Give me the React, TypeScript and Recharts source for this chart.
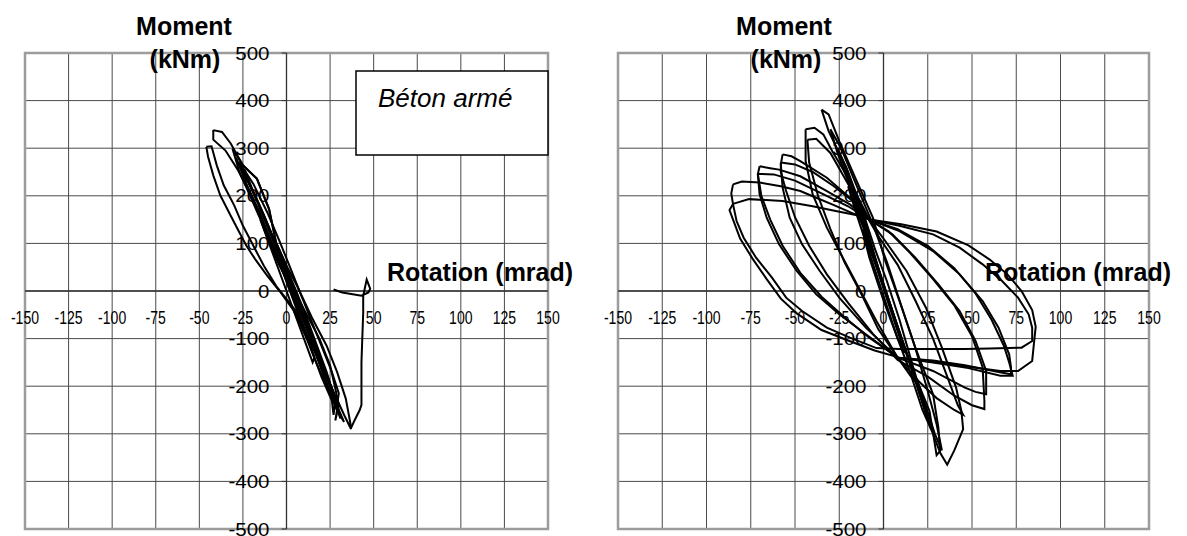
import React from 'react';
import {
  ComposedChart,
  Line,
  XAxis,
  YAxis,
  CartesianGrid,
  ReferenceLine,
  ReferenceDot,
  ReferenceArea,
} from 'recharts';

type Pt = [number, number];

const xTicks = [-150, -125, -100, -75, -50, -25, 0, 25, 50, 75, 100, 125, 150];
const yTicks = [-500, -400, -300, -200, -100, 0, 100, 200, 300, 400, 500];

// Left graph: reinforced concrete (rotation mrad, moment kNm)
const leftLoop1: Pt[] = [
  [-46, 303], [-45, 282], [-42, 243], [-38, 201], [-32, 158], [-27, 123], [-23, 95], [-18, 67],
  [-11, 32], [-4, 0], [4, -40], [11, -95], [17, -150], [23, -200], [29, -250], [33, -275],
  [30, -250], [25, -200], [19, -150], [12, -95], [5, -40], [-6, 11], [-13, 53], [-19, 95],
  [-25, 137], [-30, 180], [-36, 222], [-40, 264], [-43, 304], [-46, 303],
];
const leftLoop2: Pt[] = [
  [-42, 338], [-37, 334], [-32, 310], [-25, 264], [-17, 236], [-10, 172], [-6, 102], [0, 53],
  [6, 11], [10, -20], [15, -59], [23, -115], [29, -170], [34, -226], [37, -285], [37, -290],
  [33, -260], [28, -220], [22, -170], [16, -115], [10, -60], [4, -10], [-2, 40], [-8, 95],
  [-14, 150], [-21, 205], [-28, 255], [-35, 295], [-42, 318], [-42, 338],
];
const leftLoop3: Pt[] = [
  [-31, 299], [-27, 250], [-21, 201], [-15, 151], [-10, 102], [-4, 53], [2, 11], [6, -20],
  [11, -70], [16, -120], [21, -170], [25, -215], [29, -250], [28, -272], [30, -240], [28, -205],
  [25, -156], [19, -101], [11, -45], [4, 3], [0, 53], [-6, 102], [-10, 172], [-17, 236],
  [-25, 264], [-31, 299],
];
const leftLoop4: Pt[] = [
  [-25, 240], [-18, 180], [-11, 120], [-4, 60], [2, 0], [8, -60], [14, -120], [20, -180],
  [26, -230], [27, -260], [28, -230], [23, -170], [17, -110], [11, -50], [5, 5], [-2, 65],
  [-9, 125], [-16, 185], [-22, 230], [-25, 240],
];
const leftLoop5: Pt[] = [
  [-29, 280], [-23, 225], [-16, 170], [-10, 115], [-4, 60], [2, 5], [9, -55], [15, -115],
  [21, -175], [26, -220], [31, -268], [29, -235], [24, -185], [18, -130], [12, -75], [6, -20],
  [0, 35], [-6, 90], [-12, 145], [-18, 200], [-25, 250], [-29, 280],
];
const leftLoop6: Pt[] = [
  [-15, 150], [-8, 80], [0, 0], [8, -80], [15, -150], [16, -140], [9, -65], [1, 10], [-7, 90],
  [-15, 150],
];
const leftLoop7: Pt[] = [
  [-27, 270], [-20, 215], [-13, 160], [-7, 105], [-1, 50], [5, -5], [12, -65], [18, -125],
  [24, -185], [29, -240], [30, -215], [26, -170], [20, -115], [14, -60], [8, -5], [2, 50],
  [-4, 105], [-11, 165], [-19, 225], [-27, 270],
];
const leftLoop8: Pt[] = [
  [-24, 255], [-19, 205], [-12, 150], [-6, 95], [0, 40], [6, -15], [13, -80], [19, -140],
  [25, -200], [30, -255], [28, -225], [22, -165], [16, -105], [9, -40], [3, 15], [-3, 70],
  [-10, 130], [-17, 190], [-24, 255],
];
// last excursion, failure
const leftTail: Pt[] = [
  [37, -288], [39, -272], [42, -250], [43, -239], [43, -149], [44, -45], [44, -10], [46, 24],
  [48, 5], [47, -3], [43, -10], [38, -7], [32, -3], [27, 3],
];

// Right graph: pinched loops
const rightA1: Pt[] = [
  [-85, 224], [-80, 230], [-70, 228], [-58, 220], [-47, 210], [-38, 196], [-29, 182], [-16, 161],
  [-8, 150], [9, 137], [28, 119], [43, 91], [56, 56], [67, 21], [76, -14], [82, -49], [84, -77],
  [84, -105], [78, -119], [60, -121], [46, -122], [28, -122], [9, -122], [-4, -120], [-19, -98],
  [-32, -77], [-46, -42], [-55, -14], [-63, 28], [-72, 70], [-79, 112], [-83, 147], [-85, 182],
  [-86, 205], [-85, 224],
];
const rightA2: Pt[] = [
  [-85, 183], [-76, 193], [-57, 189], [-40, 178], [-27, 168], [-12, 157], [-8, 150], [10, 140],
  [30, 125], [48, 96], [60, 66], [70, 35], [78, 0], [84, -40], [86, -75], [85, -110], [84, -147],
  [76, -168], [66, -168], [50, -160], [30, -150], [10, -141], [-5, -125], [-20, -104], [-35, -82],
  [-49, -47], [-58, -16], [-66, 25], [-74, 68], [-81, 110], [-85, 150], [-87, 170], [-85, 183],
];
const rightB1: Pt[] = [
  [-70, 262], [-64, 258], [-59, 255], [-47, 241], [-32, 210], [-19, 182], [-8, 150], [9, 126],
  [28, 84], [43, 35], [56, -21], [65, -77], [71, -133], [72, -160], [72, -175], [65, -170],
  [46, -156], [28, -146], [8, -140], [-10, -91], [-25, -49], [-38, -7], [-49, 42], [-59, 98],
  [-66, 154], [-70, 203], [-71, 245], [-70, 262],
];
const rightB2: Pt[] = [
  [-71, 246], [-62, 245], [-50, 232], [-35, 205], [-20, 178], [-8, 150], [8, 130], [25, 95],
  [40, 48], [52, -5], [61, -60], [68, -115], [71, -150], [73, -178], [66, -178], [48, -162],
  [28, -150], [8, -140], [-8, -98], [-22, -55], [-35, -12], [-47, 38], [-57, 95], [-64, 150],
  [-69, 200], [-71, 246],
];
const rightC1: Pt[] = [
  [-57, 287], [-52, 283], [-47, 273], [-32, 238], [-19, 196], [-8, 150], [5, 119], [18, 70],
  [31, 14], [43, -42], [52, -105], [58, -168], [58, -217], [52, -212], [46, -203], [28, -168],
  [8, -140], [-10, -77], [-25, -14], [-36, 42], [-46, 98], [-53, 154], [-57, 217], [-58, 266],
  [-57, 287],
];
const rightC2: Pt[] = [
  [-58, 270], [-50, 266], [-40, 250], [-28, 220], [-16, 185], [-8, 150], [3, 125], [15, 80],
  [28, 25], [40, -30], [50, -95], [56, -160], [57, -230], [57, -248], [50, -240], [40, -220],
  [25, -180], [8, -145], [-6, -90], [-20, -25], [-32, 35], [-42, 95], [-50, 155], [-55, 210],
  [-58, 250], [-58, 270],
];
const rightD1: Pt[] = [
  [-44, 340], [-39, 343], [-34, 329], [-29, 294], [-19, 231], [-8, 150], [1, 105], [13, 42],
  [24, -35], [33, -119], [41, -203], [44, -252], [45, -290], [40, -335], [36, -365], [32, -340],
  [28, -300], [22, -250], [16, -182], [8, -140], [-4, -63], [-16, 21], [-25, 84], [-32, 133],
  [-40, 203], [-44, 273], [-44, 322], [-44, 340],
];
const rightD2: Pt[] = [
  [-43, 318], [-38, 320], [-30, 290], [-20, 225], [-10, 160], [-2, 110], [8, 55], [18, -20],
  [28, -100], [36, -180], [42, -240], [45, -260], [40, -250], [30, -225], [20, -190], [8, -140],
  [-3, -80], [-12, -10], [-22, 60], [-30, 130], [-37, 200], [-42, 270], [-43, 318],
];
const rightE1: Pt[] = [
  [-35, 381], [-31, 371], [-25, 315], [-16, 238], [-6, 154], [1, 63], [9, -21], [18, -119],
  [28, -217], [31, -287], [32, -336], [30, -345], [26, -252], [16, -161], [7, -63], [-2, 35],
  [-10, 140], [-21, 259], [-31, 336], [-35, 381],
];
const rightE2: Pt[] = [
  [-30, 340], [-24, 300], [-15, 220], [-6, 140], [2, 60], [10, -30], [18, -120], [25, -210],
  [30, -280], [33, -335], [29, -300], [22, -220], [14, -140], [6, -55], [-2, 30], [-10, 120],
  [-18, 210], [-26, 290], [-30, 340],
];
const rightS1: Pt[] = [
  [-20, 220], [-12, 140], [-4, 60], [4, -30], [12, -120], [20, -200], [16, -180], [8, -100],
  [0, -10], [-8, 80], [-16, 170], [-20, 220],
];
const rightS2: Pt[] = [
  [-12, 130], [-4, 50], [4, -40], [12, -130], [8, -100], [0, -20], [-8, 70], [-12, 130],
];
const rightS3: Pt[] = [
  [-26, 300], [-20, 250], [-12, 170], [-5, 90], [2, 20], [9, -60], [16, -150], [23, -240],
  [27, -290], [24, -260], [18, -190], [11, -110], [4, -30], [-3, 50], [-10, 130], [-18, 220],
  [-26, 300],
];

const leftLoops = [leftLoop1, leftLoop2, leftLoop3, leftLoop4, leftLoop5, leftLoop6, leftLoop7, leftLoop8, leftTail];
const rightLoops = [rightS1, rightS2, rightS3, rightE1, rightE2, rightD1, rightD2, rightC1, rightC2, rightB1, rightB2, rightA1, rightA2];

const FONT = '"Liberation Sans", Arial, sans-serif';

const toPoints = (loop: Pt[]) => loop.map(([x, y]) => ({ x, y }));

const XTickLabel = ({ cx, cy, value }: any) => (
  <text
    transform={`translate(${cx},${cy + 33}) scale(0.74,1)`}
    textAnchor="middle"
    fontSize={19}
    fontFamily={FONT}
    fill="#000"
  >
    {value}
  </text>
);

const YTickLabel = ({ cx, cy, value }: any) => (
  <g>
    <line x1={cx - 5} y1={cy} x2={cx} y2={cy} stroke="#333" strokeWidth={1} />
    <text
      transform={`translate(${cx - 17},${cy + 6.5}) scale(1.08,1)`}
      textAnchor="end"
      fontSize={19}
      fontFamily={FONT}
      fill="#000"
    >
      {value}
    </text>
  </g>
);

const HystChart = ({ loops, width, right }: { loops: Pt[][]; width: number; right: number }) => (
  <ComposedChart width={width} height={536} margin={{ top: 53, right, bottom: 7, left: 25 }}>
    <XAxis type="number" dataKey="x" domain={[-150, 150]} ticks={xTicks} hide />
    <YAxis type="number" dataKey="y" domain={[-500, 500]} ticks={yTicks} hide />
    <CartesianGrid stroke="#4a4a4a" strokeWidth={1} />
    <ReferenceArea x1={-150} x2={150} y1={-500} y2={500} fill="none" stroke="#9c9c9c" strokeWidth={2.5} />
    <ReferenceLine x={0} stroke="#333" strokeWidth={1.3} />
    <ReferenceLine y={0} stroke="#333" strokeWidth={1.3} />
    {xTicks.map((v) => (
      <ReferenceDot
        key={`xt${v}`}
        x={v}
        y={0}
        r={2}
        shape={(p: any) => <XTickLabel cx={p.cx} cy={p.cy} value={v} />}
      />
    ))}
    {yTicks.map((v) => (
      <ReferenceDot
        key={`yt${v}`}
        x={0}
        y={v}
        r={2}
        shape={(p: any) => <YTickLabel cx={p.cx} cy={p.cy} value={v} />}
      />
    ))}
    {loops.map((loop, i) => (
      <Line
        key={i}
        data={toPoints(loop)}
        dataKey="y"
        type="linear"
        stroke="#000"
        strokeWidth={2}
        dot={false}
        activeDot={false}
        isAnimationActive={false}
      />
    ))}
  </ComposedChart>
);

const titleStyle: React.CSSProperties = { fontFamily: FONT, fontWeight: 'bold', fontSize: 25, fill: '#000' };

export default function App() {
  return (
    <div style={{ position: 'absolute', left: 0, top: 0, width: 1187, height: 536, background: '#fff' }}>
      <div style={{ position: 'absolute', left: 0, top: 0 }}>
        <HystChart loops={leftLoops} width={580} right={32} />
      </div>
      <div style={{ position: 'absolute', left: 593, top: 0 }}>
        <HystChart loops={rightLoops} width={594} right={38} />
      </div>
      <svg width={1187} height={536} style={{ position: 'absolute', left: 0, top: 0, pointerEvents: 'none' }}>
        <text x={184} y={35} textAnchor="middle" style={titleStyle}>Moment</text>
        <text x={185} y={68} textAnchor="middle" style={titleStyle}>(kNm)</text>
        <text x={387} y={281} style={titleStyle}>Rotation (mrad)</text>
        <rect x={356} y={71} width={192} height={84} fill="#fff" stroke="#000" strokeWidth={1.5} />
        <text x={378} y={107} style={{ fontFamily: FONT, fontStyle: 'italic', fontSize: 26, fill: '#000' }}>
          Béton armé
        </text>
        <text x={784} y={35} textAnchor="middle" style={titleStyle}>Moment</text>
        <text x={786} y={68} textAnchor="middle" style={titleStyle}>(kNm)</text>
        <text x={985} y={281} style={titleStyle}>Rotation (mrad)</text>
      </svg>
    </div>
  );
}
